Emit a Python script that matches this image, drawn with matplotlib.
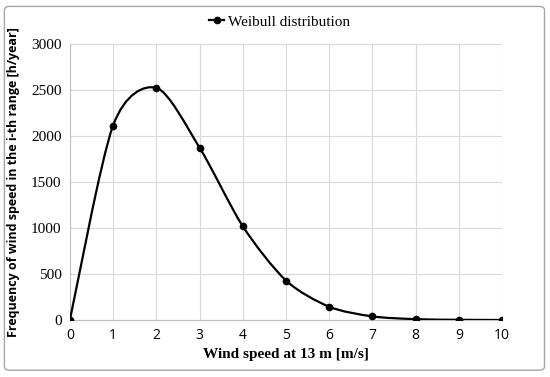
import matplotlib
matplotlib.use('Agg')
import matplotlib.pyplot as plt
from matplotlib.path import Path
from matplotlib.patches import PathPatch, FancyBboxPatch
from matplotlib.lines import Line2D
import numpy as np

wind_speed = [0, 1, 2, 3, 4, 5, 6, 7, 8, 9, 10]
frequency = [0, 2115, 2525, 1875, 1020, 430, 145, 40, 10, 3, 1]

SERIF = ['Liberation Serif', 'DejaVu Serif']
SANS = ['Open Sans', 'DejaVu Sans']


def smooth_path(x, y, t=0.14):
    # Excel-like smoothed line: Catmull-Rom style Bezier segments
    x = np.asarray(x, float)
    y = np.asarray(y, float)
    verts = [(x[0], y[0])]
    codes = [Path.MOVETO]
    n = len(x)
    for i in range(n - 1):
        x0, y0 = (x[i - 1], y[i - 1]) if i > 0 else (x[i], y[i])
        x3, y3 = (x[i + 2], y[i + 2]) if i + 2 < n else (x[i + 1], y[i + 1])
        c1 = (x[i] + (x[i + 1] - x0) * t, y[i] + (y[i + 1] - y0) * t)
        c2 = (x[i + 1] - (x3 - x[i]) * t, y[i + 1] - (y3 - y[i]) * t)
        verts += [c1, c2, (x[i + 1], y[i + 1])]
        codes += [Path.CURVE4] * 3
    return Path(verts, codes)


fig = plt.figure(figsize=(5.5, 3.77), dpi=100)
ax = fig.add_axes([0.127, 0.151, 0.786, 0.732])

ax.add_patch(PathPatch(smooth_path(wind_speed, frequency), facecolor='none',
                       edgecolor='black', lw=1.6, zorder=3))
ax.plot(wind_speed, frequency, 'o', color='black', ms=4.5, zorder=4)

ax.set_xlim(0, 10)
ax.set_ylim(0, 3000)
ax.set_xticks(range(0, 11))
ax.set_yticks(range(0, 3001, 500))
ax.grid(True, color='#d9d9d9', lw=0.8)
ax.set_axisbelow(True)
for s in ['top', 'right']:
    ax.spines[s].set_visible(False)
for s in ['left', 'bottom']:
    ax.spines[s].set_color('#bfbfbf')
ax.tick_params(length=0, pad=6)
for lab in ax.get_xticklabels():
    lab.set_fontfamily(SANS)
    lab.set_fontsize(10)
for lab in ax.get_yticklabels():
    lab.set_fontfamily(SERIF)
    lab.set_fontsize(11)

ax.set_xlabel('Wind speed at 13 m [m/s]', fontfamily=SERIF, fontweight='bold',
              fontsize=11, labelpad=3)
ax.set_ylabel('Frequency of wind speed in the i-th range [h/year]', fontfamily=SANS,
              fontweight='bold', fontsize=9, labelpad=8)

handle = Line2D([], [], color='black', marker='o', ms=4.5, lw=1.6)
fig.legend([handle], ['Weibull distribution'], loc='center', bbox_to_anchor=(0.508, 0.942),
           frameon=False, prop={'family': SERIF, 'size': 11}, handlelength=1.0,
           handletextpad=0.2)

fig.patches.append(FancyBboxPatch((0.008, 0.018), 0.982, 0.965,
                                  boxstyle='round,pad=0,rounding_size=0.01',
                                  transform=fig.transFigure, facecolor='none',
                                  edgecolor='#a6a6a6', lw=1.0))

fig.savefig('out.png', dpi=100)
